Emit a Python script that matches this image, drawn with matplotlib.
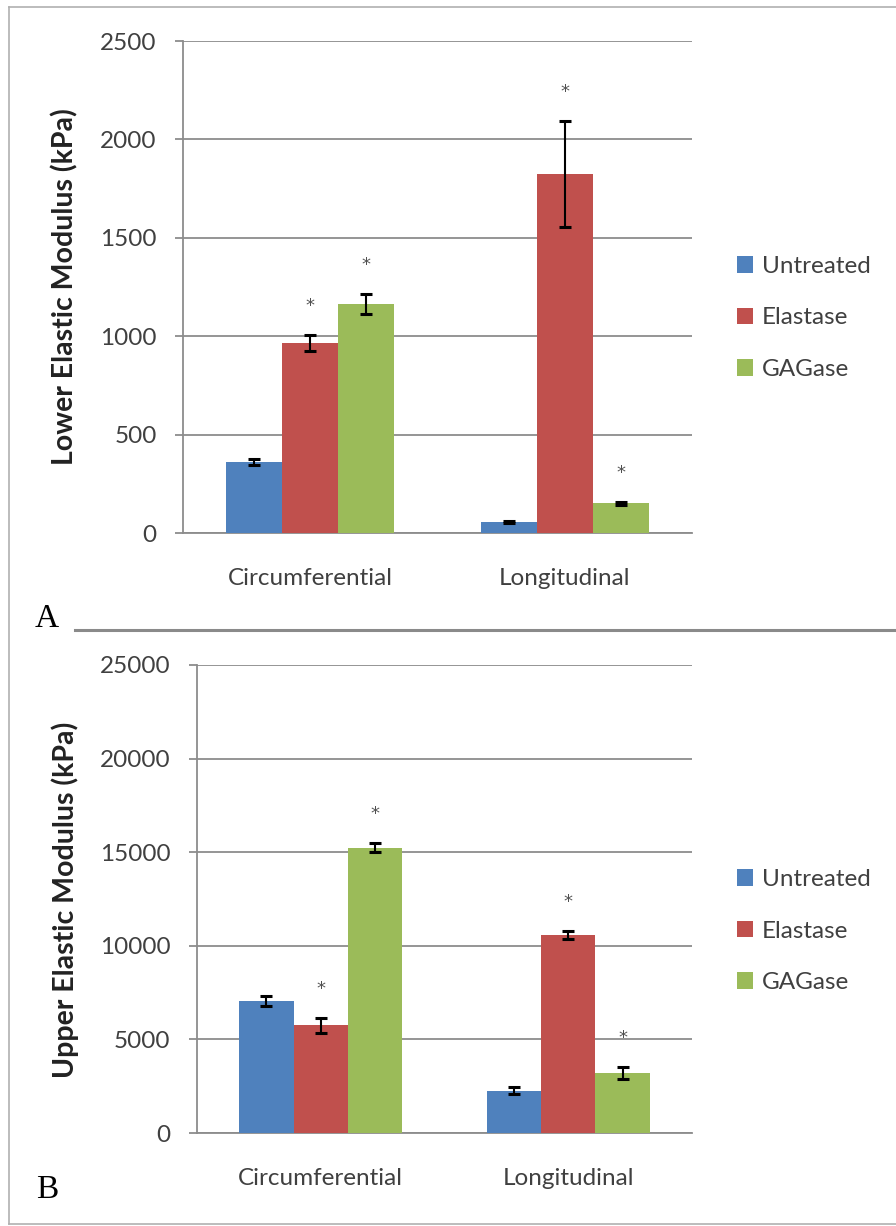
import numpy as np
import matplotlib.pyplot as plt
from matplotlib.lines import Line2D

plt.rcParams['font.family'] = ['Lato', 'DejaVu Sans']

# Categories and groups
categories = ['Circumferential', 'Longitudinal']
treatments = ['Untreated', 'Elastase', 'GAGase']
colors = ['#4F81BD', '#C0504D', '#9BBB59']

# Panel A - lower elastic modulus (kPa)
lower_untreated = [360, 55]
lower_untreated_err = [15, 6]
lower_elastase = [965, 1825]
lower_elastase_err = [40, 270]
lower_gagase = [1165, 150]
lower_gagase_err = [50, 8]
lower_sig = [[False, False], [True, True], [True, True]]

# Panel B - upper elastic modulus (kPa)
upper_untreated = [7050, 2270]
upper_untreated_err = [280, 180]
upper_elastase = [5760, 10560]
upper_elastase_err = [400, 220]
upper_gagase = [15250, 3200]
upper_gagase_err = [230, 300]
upper_sig = [[False, False], [True, True], [True, True]]

W, H = 896, 1226
fig = plt.figure(figsize=(W / 100, H / 100), dpi=100)


def fx(px):
    return px / W


def fy(py):
    return 1 - py / H


def draw_panel(rect, means, errs, sig, ymax, step, ylabel, label_y, legend_y):
    ax = fig.add_axes(rect)
    x = np.arange(len(categories))
    w = 0.22
    for i, name in enumerate(treatments):
        pos = x + (i - 1) * w
        ax.bar(pos, means[i], w, color=colors[i], label=name, zorder=3)
        ax.errorbar(pos, means[i], yerr=errs[i], fmt='none', ecolor='black',
                    elinewidth=1.5, capsize=4.5, capthick=2.2, zorder=4)
        for p, m, e, s in zip(pos, means[i], errs[i], sig[i]):
            if s:
                ax.annotate('*', (p, m + e), xytext=(0, 21), textcoords='offset points',
                            ha='center', va='center', fontsize=13, color='#505050',
                            family='DejaVu Sans')

    ax.set_xlim(-0.5, 1.5)
    ax.set_ylim(0, ymax)
    ax.set_yticks(np.arange(0, ymax + 1, step))
    ax.set_xticks(x, categories)
    ax.yaxis.grid(True, color='#8c8c8c', lw=1.3)
    ax.set_axisbelow(True)
    for s in ['top', 'right']:
        ax.spines[s].set_visible(False)
    for s in ['left', 'bottom']:
        ax.spines[s].set_color('#8c8c8c')
        ax.spines[s].set_linewidth(1.3)
    ax.tick_params(axis='y', length=6, width=1.3, color='#8c8c8c', pad=13,
                   labelsize=17.5, labelcolor='#404040')
    ax.tick_params(axis='x', length=0, pad=25, labelsize=17.5, labelcolor='#404040')

    fig.text(fx(65), label_y, ylabel, rotation=90, ha='center', va='center',
             fontsize=20.5, fontweight='bold', color='#222222')

    leg = ax.legend(loc='center left', bbox_to_anchor=(fx(737), legend_y),
                    bbox_transform=fig.transFigure, frameon=False, fontsize=17.5,
                    handlelength=0.66, handleheight=0.66, handletextpad=0.35,
                    labelspacing=1.25, borderpad=0, borderaxespad=0)
    for t in leg.get_texts():
        t.set_color('#404040')
    return ax


lower_means = [lower_untreated, lower_elastase, lower_gagase]
lower_errs = [lower_untreated_err, lower_elastase_err, lower_gagase_err]
upper_means = [upper_untreated, upper_elastase, upper_gagase]
upper_errs = [upper_untreated_err, upper_elastase_err, upper_gagase_err]

draw_panel([fx(183), fy(533), fx(692) - fx(183), fy(41) - fy(533)],
           lower_means, lower_errs, lower_sig, 2500, 500,
           'Lower Elastic Modulus (kPa)', fy(287), fy(318))
draw_panel([fx(197), fy(1133), fx(692) - fx(197), fy(665) - fy(1133)],
           upper_means, upper_errs, upper_sig, 25000, 5000,
           'Upper Elastic Modulus (kPa)', fy(900), fy(931))

# outer frame and separator
frame_kw = dict(transform=fig.transFigure, color='#b0b0b0', lw=1.2)
fig.add_artist(Line2D([fx(9), fx(9)], [fy(7), fy(1224)], **frame_kw))
fig.add_artist(Line2D([fx(9), 1], [fy(7), fy(7)], **frame_kw))
fig.add_artist(Line2D([fx(9), 1], [fy(1224), fy(1224)], **frame_kw))
fig.add_artist(Line2D([fx(75), 1], [fy(630), fy(630)], transform=fig.transFigure,
                      color='#8a8a8a', lw=2.2))

# panel letters
fig.text(fx(47), fy(619), 'A', family=['Liberation Serif', 'DejaVu Serif'],
         fontsize=24, ha='center', va='center')
fig.text(fx(47), fy(1190), 'B', family=['Liberation Serif', 'DejaVu Serif'],
         fontsize=24, ha='center', va='center')

fig.savefig('out.png', dpi=100)
